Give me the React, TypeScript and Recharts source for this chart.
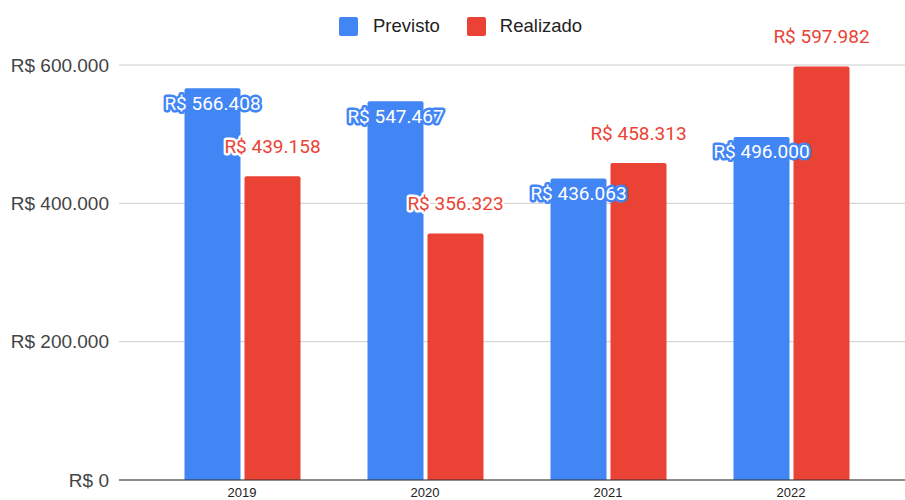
import React from 'react';
import { BarChart, Bar, XAxis, YAxis, CartesianGrid, Legend, LabelList } from 'recharts';

const categories = ['2019', '2020', '2021', '2022'];
const previsto = [566408, 547467, 436063, 496000];
const realizado = [439158, 356323, 458313, 597982];
const yTicks = [0, 200000, 400000, 600000];

const BLUE = '#4285F4';
const RED = '#EA4335';

const data = categories.map((c, i) => ({ year: c, previsto: previsto[i], realizado: realizado[i] }));

const fmt = (n: number) => 'R$ ' + Math.round(n).toString().replace(/\B(?=(\d{3})+(?!\d))/g, '.');

const BlueLabel = (props: any) => {
  const { x, y, width, value } = props;
  return (
    <text
      x={x + width / 2}
      y={y + 15}
      textAnchor="middle"
      dominantBaseline="central"
      fill="#ffffff"
      stroke={BLUE}
      strokeWidth={5}
      strokeLinejoin="round"
      style={{ paintOrder: 'stroke', fontFamily: 'Roboto', fontSize: 19 }}
    >
      {fmt(value)}
    </text>
  );
};

const RedLabel = (props: any) => {
  const { x, y, width, value } = props;
  return (
    <text
      x={x + width / 2}
      y={y - 30}
      textAnchor="middle"
      dominantBaseline="central"
      fill={RED}
      stroke="#ffffff"
      strokeWidth={5}
      strokeLinejoin="round"
      style={{ paintOrder: 'stroke', fontFamily: 'Roboto', fontSize: 19 }}
    >
      {fmt(value)}
    </text>
  );
};

const LegendContent = () => (
  <div style={{ position: 'relative', height: 50, fontFamily: 'Liberation Sans, Arial', fontSize: 18.5, color: '#222' }}>
    <div style={{ position: 'absolute', left: 339, top: 15, display: 'flex', alignItems: 'center' }}>
      <span style={{ width: 19, height: 19, background: BLUE, borderRadius: 2, display: 'inline-block' }} />
      <span style={{ marginLeft: 15 }}>Previsto</span>
      <span style={{ width: 19, height: 19, background: RED, borderRadius: 2, display: 'inline-block', marginLeft: 27 }} />
      <span style={{ marginLeft: 14 }}>Realizado</span>
    </div>
  </div>
);

export default function App() {
  return (
    <div style={{ position: 'absolute', left: 0, top: 0, width: 905, height: 500, background: '#fff' }}>
      <BarChart
        width={905}
        height={500}
        data={data}
        margin={{ top: 15, right: 0, left: 0, bottom: 0 }}
        barGap={4}
      >
        <CartesianGrid vertical={false} stroke="#cccccc" strokeWidth={1} />
        <XAxis
          dataKey="year"
          height={20}
          padding={{ left: 31.5, right: 22.5 }}
          axisLine={{ stroke: '#333333' }}
          tickLine={false}
          tickSize={0}
          tickMargin={8}
          tick={{ fill: '#222222', fontSize: 13, fontFamily: 'Liberation Sans, Arial' }}
        />
        <YAxis
          width={119}
          domain={[0, 600000]}
          ticks={yTicks}
          axisLine={false}
          tickLine={false}
          tickSize={0}
          tickMargin={10}
          tickFormatter={fmt}
          tick={{ fill: '#444444', fontSize: 19, fontFamily: 'Liberation Sans, Arial' }}
        />
        <Legend
          verticalAlign="top"
          content={LegendContent}
          wrapperStyle={{ position: 'absolute', top: 0, left: 0, width: 905, height: 50 }}
        />
        <Bar dataKey="previsto" name="Previsto" fill={BLUE} barSize={56} radius={[2, 2, 0, 0]} isAnimationActive={false}>
          <LabelList dataKey="previsto" content={BlueLabel} />
        </Bar>
        <Bar dataKey="realizado" name="Realizado" fill={RED} barSize={56} radius={[2, 2, 0, 0]} isAnimationActive={false}>
          <LabelList dataKey="realizado" content={RedLabel} />
        </Bar>
      </BarChart>
    </div>
  );
}
